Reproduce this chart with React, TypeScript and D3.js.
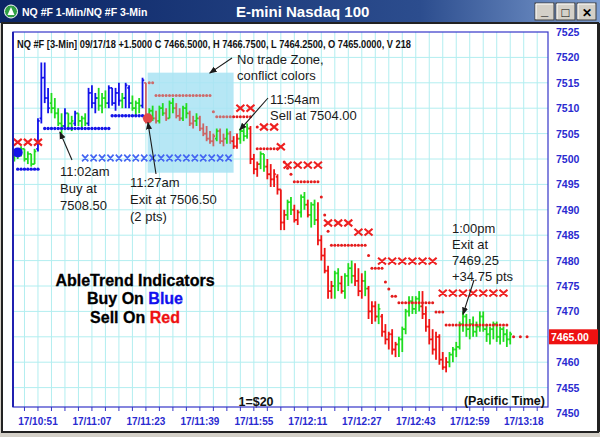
import * as d3 from 'd3';

// 1-min bars (price units)
const highs = [
  7501.5, 7502, 7502.5, 7502, 7501.5, 7501, 7502, 7508, 7519, 7519,
  7514, 7513, 7512, 7510, 7509, 7510, 7509, 7508.5, 7509.5, 7509,
  7508.5, 7509, 7514, 7514.5, 7513, 7514, 7513, 7513.5, 7514.5, 7514,
  7514, 7515, 7513, 7515, 7514.5, 7512.5, 7511.5, 7512, 7516, 7515,
  7510, 7510.5, 7509.5, 7510.5, 7511, 7510, 7511.5, 7512, 7511, 7510,
  7510.5, 7511, 7509.5, 7508.5, 7509, 7508.5, 7507, 7506.5, 7505.5, 7505,
  7506, 7506, 7505, 7506, 7505.5, 7504.5, 7505, 7506, 7506.5, 7507,
  7506.5, 7501, 7499.5, 7501.5, 7501, 7500, 7499, 7498, 7497, 7494,
  7490, 7492, 7492.5, 7491, 7490, 7493, 7493.5, 7492, 7491.5, 7492,
  7491.5, 7485, 7482.5, 7479, 7476, 7478, 7478.5, 7477, 7477.5, 7479.5,
  7480, 7479.5, 7478.5, 7477.5, 7478, 7475, 7472, 7472, 7471.5, 7469.5,
  7467.5, 7466, 7466.5, 7464, 7465, 7467, 7470.5, 7473, 7473, 7473,
  7474, 7474, 7471, 7468.5, 7466.5, 7466, 7465.5, 7462, 7461, 7462,
  7463, 7464, 7468, 7470, 7469.5, 7468.5, 7469, 7468, 7470, 7470,
  7467.5, 7467, 7468, 7468, 7467, 7467, 7466.5, 7466,
];
const lows = [
  7499.5, 7500, 7500.5, 7499.5, 7499, 7498.5, 7499, 7501.5, 7507, 7511,
  7509, 7509, 7508, 7506.5, 7505, 7506, 7506, 7505.5, 7506.5, 7506.5,
  7506, 7506.5, 7506.5, 7510, 7509, 7509.5, 7509, 7510, 7510, 7510.5,
  7509.5, 7510.5, 7510, 7510, 7510, 7509.5, 7508.5, 7509, 7510, 7507,
  7507, 7507.5, 7507, 7507, 7508.5, 7507.5, 7508, 7509, 7508, 7507.5,
  7507.5, 7508, 7506.5, 7506, 7506.5, 7505.5, 7504.5, 7503.5, 7503, 7502.5,
  7503.5, 7503, 7502.5, 7503, 7503, 7502, 7502, 7503, 7503.5, 7504,
  7499, 7497, 7496.5, 7498, 7497.5, 7496, 7494.5, 7494.5, 7493, 7486,
  7486, 7488, 7489, 7487.5, 7487, 7488.5, 7490, 7488.5, 7486.5, 7487,
  7483, 7480, 7477.5, 7472.5, 7472.5, 7472.5, 7474, 7473.5, 7472.5, 7475,
  7475.5, 7475, 7473, 7472.5, 7473, 7468.5, 7467.5, 7468, 7467.5, 7465,
  7463.5, 7462.5, 7461.5, 7461, 7461, 7462, 7465.5, 7469, 7469.5, 7469.5,
  7470, 7468.5, 7466, 7463.5, 7461.5, 7460.5, 7459.5, 7458.5, 7458, 7459,
  7460, 7461, 7462.5, 7466, 7465, 7464.5, 7465, 7465, 7466, 7466,
  7464, 7463.5, 7464.5, 7464, 7463.5, 7464, 7463, 7463.5,
];
const opens = [
  7500, 7501, 7501.5, 7502, 7500, 7501, 7499, 7502, 7508, 7516,
  7512, 7511, 7510, 7509, 7507, 7506.5, 7509, 7507, 7507, 7509,
  7507.5, 7508, 7507, 7513, 7511, 7512, 7510.5, 7512, 7511, 7514,
  7511, 7513, 7511.5, 7512, 7514, 7511, 7510, 7511, 7510.5, 7515,
  7508, 7509.5, 7508, 7507.5, 7510, 7509, 7508, 7511, 7510, 7508.5,
  7508, 7510, 7509, 7507, 7507.5, 7508, 7506, 7505, 7504, 7503.5,
  7504, 7505.5, 7503.5, 7504, 7505, 7503.5, 7502.5, 7504, 7505.5, 7504.5,
  7506, 7500, 7498, 7499, 7501, 7498.5, 7497, 7496, 7496.5, 7494,
  7487.5, 7489, 7491.5, 7490, 7488, 7489.5, 7492.5, 7491, 7489, 7491,
  7488, 7484, 7481, 7478, 7474, 7475, 7477.5, 7475.5, 7474, 7477,
  7478.5, 7477, 7476, 7474, 7476, 7474.5, 7470, 7471, 7469, 7469,
  7466, 7464.5, 7465.5, 7462.5, 7463.5, 7464.5, 7466.5, 7470, 7472, 7470.5,
  7472.5, 7471, 7469.5, 7467, 7464.5, 7462.5, 7465, 7460.5, 7459, 7460,
  7461.5, 7462.5, 7463, 7467.5, 7469, 7466.5, 7467.5, 7466, 7467, 7469,
  7466.5, 7465.5, 7466.5, 7467.5, 7465, 7466.5, 7465.5, 7464.5,
];
const closes = [
  7501, 7501.5, 7502, 7500, 7501, 7499, 7501.5, 7507.5, 7516, 7512,
  7510, 7510, 7509, 7507, 7506.5, 7509, 7507, 7507.5, 7509, 7507.5,
  7508, 7507, 7513, 7511, 7512, 7510.5, 7512, 7511, 7514, 7511,
  7513, 7511.5, 7512, 7514.5, 7511, 7510, 7511, 7510.5, 7515.5, 7508,
  7509.5, 7508, 7507.5, 7510, 7509, 7508, 7511, 7510, 7508.5, 7508,
  7510, 7509, 7507, 7507.5, 7508, 7506, 7505, 7504, 7503.5, 7504.5,
  7505.5, 7503.5, 7504, 7505, 7503.5, 7502.5, 7504, 7505.5, 7504.5, 7506,
  7500, 7498, 7499, 7501, 7498.5, 7497, 7496, 7497, 7494, 7487.5,
  7489, 7491.5, 7490, 7488, 7489.5, 7492.5, 7491, 7489, 7491, 7488,
  7484, 7481, 7478, 7474, 7475, 7477.5, 7475.5, 7474, 7477, 7478.5,
  7477, 7476, 7474, 7476, 7474.5, 7470, 7471, 7469, 7470.5, 7466,
  7464.5, 7465.5, 7462.5, 7463.5, 7464.5, 7466.5, 7470, 7472, 7470.5, 7472.5,
  7471, 7469.5, 7467, 7464.5, 7462.5, 7465, 7460.5, 7459, 7460, 7461.5,
  7462.5, 7463, 7467.5, 7469, 7466.5, 7467.5, 7466, 7467, 7469, 7466.5,
  7465.5, 7466.5, 7467.5, 7465, 7466.5, 7465.5, 7464.5, 7465.5,
];
// b = buy (blue), g = green, p = no-trade (pink), r = sell (red)
const barColorCodes = [
  'ggggggg', 'bbbb', 'gggg', 'b', 'gg', 'b', 'ggg', 'bbb', 'ggg', 'bbbb', 'g', 'bb', 'ggg', 'b',
  'p', 'gg', 'p', 'gg', 'p', 'gg', 'pp', 'gg', 'pp', 'g', 'ppppp', 'g', 'pp', 'g', 'p',
  'rr', 'ggg', 'rrr', 'gg', 'rrrrrr', 'gg', 'rr', 'gg', 'r', 'gg', 'rrrrr', 'gg', 'r', 'ggg',
  'rrr', 'g', 'rrr', 'g', 'rrrrr', 'ggggggg', 'rrrrrrrr', 'ggggggggggggggggggg',
].join('');

// stop dots: [fromBar, toBar, price]
const blueStops = [[1, 7, 7498], [9, 28, 7506], [29, 38, 7508.5]];
const pinkStops = [[40, 41, 7515], [42, 58, 7512.5], [59, 59, 7509.3], [60, 64, 7508.3]];
const redStops = [
  [65, 70, 7508.3], [72, 72, 7506.3], [72, 78, 7502], [80, 80, 7499.4], [81, 81, 7498.2],
  [82, 82, 7497], [83, 90, 7495.5], [91, 91, 7492.5], [92, 92, 7489], [93, 93, 7485.8],
  [94, 104, 7483], [105, 105, 7481], [106, 109, 7478.5], [110, 110, 7475.8], [111, 111, 7474.4],
  [112, 113, 7473], [114, 124, 7471.7], [125, 127, 7469.9], [128, 146, 7467.3],
];
const redTailStops = [[148, 152, 7465]];
// 3-min X markers: [fromBar, toBar, price]
const redXs = [
  [1, 7, 7503.3], [67, 70, 7510], [74, 77, 7506.3], [79, 79, 7502.4], [81, 90, 7498.8],
  [93, 99, 7487.4], [102, 105, 7485.6], [109, 124, 7479.9], [127, 145, 7473.6],
];
const blueXs = [[21, 64, 7500.2]];

const signals = [
  { bar: 1, price: 7501.3, color: '#1414e8' },
  { bar: 39.6, price: 7508, color: '#e24848' },
];
const noTradeZone = { from: 39.5, to: 65, top: 7517, bottom: 7497.3 };

const yTicks = d3.range(7450, 7526, 5);
const timeLabels = ['17/10:51', '17/11:07', '17/11:23', '17/11:39', '17/11:55', '17/12:11', '17/12:27', '17/12:43', '17/12:59', '17/13:18'];
const timeLabelBars = [7, 23, 39, 55, 71, 87, 103, 119, 135, 151];
const lastPrice = 7465;

const colorOf: Record<string, string> = { b: '#1212ea', g: '#1fdc1f', p: '#cc6464', r: '#ee1414' };
const FONT = 'Liberation Sans, Arial, sans-serif';

const plot = { left: 13, right: 548, top: 32, bottom: 407 };

export default function App() {
  const x = d3.scaleLinear().domain([-0.4, 158.2]).range([plot.left, plot.right]);
  const y = d3.scaleLinear().domain([7450, 7525]).range([413, 32]);
  const gridBars = d3.range(-1, 159, 4).filter((i) => x(i) > plot.left && x(i) < plot.right);

  const dots = (segs: number[][], step = 1) =>
    segs.flatMap(([a, b, p]) => d3.range(a, b + 0.01, step).map((i) => [x(i), y(p)]));

  const xMark = (cx: number, cy: number, w = 4) =>
    `M${cx - w},${cy - 3.4}L${cx + w},${cy + 3.4}M${cx + w},${cy - 3.4}L${cx - w},${cy + 3.4}`;

  const arrows = [
    { from: [232, 58], to: [x(57.9), y(7516.9)] },
    { from: [268, 98], to: [x(66.8), y(7505.7)] },
    { from: [72, 160], to: [x(13.5), y(7505.3)] },
    { from: [156, 174], to: [x(39.6), y(7507.2)] },
    { from: [474, 280], to: [x(133), y(7469.4)] },
  ];

  const ann = { fontFamily: FONT, fontSize: 13, fill: '#1a1a1a' };

  return (
    <svg width={600} height={437} style={{ position: 'fixed', left: 0, top: 0 }} fontFamily={FONT}>
      <defs>
        <linearGradient id="tb" x1="0" x2="1" y1="0" y2="0">
          <stop offset="0" stopColor="#0b2565" />
          <stop offset="0.7" stopColor="#2c4d8e" />
          <stop offset="1" stopColor="#7d9dd0" />
        </linearGradient>
        <marker id="ah" viewBox="0 0 10 10" refX="9" refY="5" markerWidth="7" markerHeight="7" orient="auto">
          <path d="M0,1L10,5L0,9Z" fill="#1a1a1a" />
        </marker>
      </defs>

      {/* window chrome */}
      <rect width={600} height={437} fill="#d4d0c8" />
      <rect x={0} y={0} width={600} height={23} fill="url(#tb)" />
      <circle cx={11} cy={11.5} r={6.5} fill="#2f9e44" stroke="#fff" strokeWidth={1} />
      <path d="M11,7L14.5,15L7.5,15Z" fill="#fff" />
      <text x={22} y={16} fill="#fff" fontSize={10.5} fontWeight="bold">NQ #F 1-Min/NQ #F 3-Min</text>
      <text x={236} y={17} fill="#fff" fontSize={15} fontWeight="bold">E-mini Nasdaq 100</text>
      {['_', '□', '✕'].map((s, k) => (
        <g key={s} transform={`translate(${535 + k * 21},3)`}>
          <rect width={19} height={17} fill="#d4d0c8" stroke="#404040" strokeWidth={1} />
          <path d="M1,16V1H18" stroke="#fff" fill="none" />
          <text x={9.5} y={k === 0 ? 12 : 14} textAnchor="middle" fontSize={k === 2 ? 12 : 13} fontWeight="bold" fill="#000">{s}</text>
        </g>
      ))}
      <rect x={2} y={23} width={596} height={409} fill="#fff" stroke="#222" strokeWidth={2} />

      {/* grid */}
      <g stroke="#b2eef0" strokeWidth={1}>
        {gridBars.map((i) => (
          <line key={`gx${i}`} x1={x(i)} x2={x(i)} y1={plot.top} y2={plot.bottom} />
        ))}
        {yTicks.filter((t) => y(t) > plot.top && y(t) < plot.bottom).map((t) => (
          <line key={`gy${t}`} x1={plot.left} x2={plot.right} y1={y(t)} y2={y(t)} />
        ))}
      </g>

      {/* no-trade zone */}
      <rect
        x={x(noTradeZone.from)}
        y={y(noTradeZone.top)}
        width={x(noTradeZone.to) - x(noTradeZone.from)}
        height={y(noTradeZone.bottom) - y(noTradeZone.top)}
        fill="#a9e3f3"
        opacity={0.85}
      />

      {/* blue Xs */}
      <path d={dots(blueXs, 2.5).map(([cx, cy]) => xMark(cx, cy, 3.1)).join('')} stroke="#4466f2" strokeWidth={1.7} fill="none" />

      {/* bars */}
      {highs.map((h, i) => {
        const cx = x(i);
        const c = colorOf[barColorCodes[i]];
        return (
          <g key={i} stroke={c} strokeWidth={1.8}>
            <line x1={cx} x2={cx} y1={y(h)} y2={y(lows[i])} />
            <line x1={cx - 1.7} x2={cx} y1={y(opens[i])} y2={y(opens[i])} />
            <line x1={cx} x2={cx + 1.7} y1={y(closes[i])} y2={y(closes[i])} />
          </g>
        );
      })}

      {/* stop dots */}
      {dots(blueStops).map(([cx, cy], k) => <circle key={`bd${k}`} cx={cx} cy={cy} r={1.7} fill="#1515e8" />)}
      {dots(pinkStops).map(([cx, cy], k) => <circle key={`pd${k}`} cx={cx} cy={cy} r={1.5} fill="#cd6a6a" />)}
      {dots(redStops).map(([cx, cy], k) => <circle key={`rd${k}`} cx={cx} cy={cy} r={1.5} fill="#e41c1c" />)}
      {dots(redTailStops, 2).map(([cx, cy], k) => <circle key={`rt${k}`} cx={cx} cy={cy} r={1.5} fill="#e41c1c" />)}

      {/* red Xs */}
      <path d={dots(redXs, 3).map(([cx, cy]) => xMark(cx, cy)).join('')} stroke="#ee2020" strokeWidth={2.1} fill="none" />

      {signals.map((s) => (
        <circle key={s.bar} cx={x(s.bar)} cy={y(s.price)} r={5} fill={s.color} />
      ))}

      {/* plot frame and axes */}
      <rect x={plot.left} y={plot.top} width={plot.right - plot.left} height={plot.bottom - plot.top} fill="none" stroke="#3535c8" strokeWidth={1.2} />
      <line x1={plot.left} x2={plot.left} y1={plot.top} y2={plot.bottom} stroke="#2020b0" strokeWidth={2} />
      <g stroke="#3535c8">
        {gridBars.map((i) => (
          <line key={`t${i}`} x1={x(i)} x2={x(i)} y1={plot.bottom} y2={plot.bottom + 4} />
        ))}
      </g>
      {timeLabels.map((t, k) => (
        <text key={t} x={x(timeLabelBars[k])} y={425} textAnchor="middle" fontSize={10} fontWeight="bold" fill="#2a2ad0">{t}</text>
      ))}
      {yTicks.filter((t) => t !== lastPrice).map((t) => (
        <text key={t} x={556} y={y(t) + 4} fontSize={10.5} fontWeight="bold" fill="#2a2ad0">{t}</text>
      ))}
      <rect x={549} y={y(lastPrice) - 7.5} width={51} height={15} fill="#ee1111" />
      <text x={551} y={y(lastPrice) + 4} fontSize={10.5} fontWeight="bold" fill="#fff">{lastPrice.toFixed(2)}</text>
      <rect x={598} y={23} width={2} height={409} fill="#222" />

      {/* header */}
      <text x={17} y={48} fontSize={10} fontWeight="bold" fill="#111" textLength={394} lengthAdjust="spacingAndGlyphs">
        NQ #F [3-Min] 09/17/18  +1.5000 C 7466.5000, H 7466.7500, L 7464.2500, O 7465.0000, V 218
      </text>

      {/* annotations */}
      {arrows.map((a, k) => (
        <line key={`a${k}`} x1={a.from[0]} y1={a.from[1]} x2={a.to[0]} y2={a.to[1]} stroke="#1a1a1a" strokeWidth={1.1} markerEnd="url(#ah)" />
      ))}
      <text {...ann} x={237} y={64}>No trade Zone,</text>
      <text {...ann} x={237} y={80}>conflict colors</text>
      <text {...ann} x={270} y={104}>11:54am</text>
      <text {...ann} x={270} y={120}>Sell at 7504.00</text>
      <text {...ann} x={60} y={176}>11:02am</text>
      <text {...ann} x={60} y={193}>Buy at</text>
      <text {...ann} x={60} y={210}>7508.50</text>
      <text {...ann} x={130} y={187}>11:27am</text>
      <text {...ann} x={130} y={204}>Exit at 7506.50</text>
      <text {...ann} x={130} y={221}>(2 pts)</text>
      <text {...ann} x={452} y={233}>1:00pm</text>
      <text {...ann} x={452} y={249}>Exit at</text>
      <text {...ann} x={452} y={265}>7469.25</text>
      <text {...ann} x={452} y={281}>+34.75 pts</text>

      {/* legend */}
      <g fontSize={16} fontWeight="bold" textAnchor="middle" fill="#000" stroke="#000" strokeWidth={0.3}>
        <text x={135} y={286}>AbleTrend Indicators</text>
        <text x={135} y={304}>Buy On <tspan fill="#1111ee" stroke="#1111ee">Blue</tspan></text>
        <text x={135} y={323}>Sell On <tspan fill="#ee1111" stroke="#ee1111">Red</tspan></text>
      </g>

      <text x={256} y={406} textAnchor="middle" fontSize={12.5} fontWeight="bold" fill="#111">1=$20</text>
      <text x={545} y={405} textAnchor="end" fontSize={12.5} fontWeight="bold" fill="#111">(Pacific Time)</text>
    </svg>
  );
}
